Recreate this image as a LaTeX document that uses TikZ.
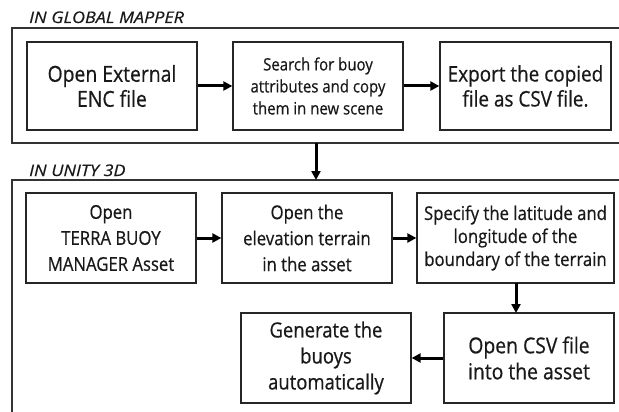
\documentclass[tikz,border=0pt]{standalone}
\usepackage{fontspec}
\setmainfont[FakeStretch=0.88, FakeBold=0.6]{Open Sans}
\newfontfamily\lblfont[FakeStretch=1.12, FakeBold=0.4]{Open Sans}
\usetikzlibrary{arrows.meta}
\tikzset{
  stepbox/.style={draw=black!85, line width=1.3pt, rectangle, align=center, inner sep=2pt, text=black!90},
  frame/.style={draw=black!80, line width=1.4pt},
  flow/.style={line width=3pt, draw=black, -{Triangle[length=9pt,width=9pt]}},
  lbl/.style={anchor=base west, font=\lblfont\fontsize{16}{18}\selectfont\itshape, text=black!90, inner sep=0pt}
}
\begin{document}
\begin{tikzpicture}[x=1pt,y=-1pt]
\useasboundingbox (0,0) rectangle (619,412);
\clip (0,0) rectangle (619,412);
% frames
\draw[frame] (12,28) rectangle (660,143);
\draw[frame] (12,180) rectangle (660,460);
\node[lbl] (l1) at (29,23) {IN GLOBAL MAPPER};
\node[lbl] (l2) at (29,176) {IN UNITY 3D};
% top row
\node[stepbox, minimum width=170pt, minimum height=88pt, font=\fontsize{22}{25}\selectfont] (a) at (112,86) {Open External\\ENC file};
\node[stepbox, minimum width=170pt, minimum height=88pt, font=\fontsize{17}{22}\selectfont] (b) at (318,86) {Search for buoy\\attributes and copy\\them in new scene};
\node[stepbox, minimum width=171pt, minimum height=88pt, font=\fontsize{21.5}{25}\selectfont] (c) at (525.5,86) {Export the copied\\file as CSV file.};
% bottom
\node[stepbox, minimum width=170pt, minimum height=90pt, font=\fontsize{19}{26}\selectfont] (d) at (111,238) {Open\\TERRA BUOY\\MANAGER Asset};
\node[stepbox, minimum width=170pt, minimum height=90pt, font=\fontsize{19}{26}\selectfont] (e) at (307,238) {Open the\\elevation terrain\\in the asset};
\node[stepbox, minimum width=197pt, minimum height=90pt, font=\fontsize{19}{23}\selectfont] (f) at (515.5,238) {Specify the latitude and\\longitude of the\\boundary of the terrain};
\node[stepbox, minimum width=170pt, minimum height=90pt, font=\fontsize{22}{26}\selectfont] (g) at (529,358) {Open CSV file\\into the asset};
\node[stepbox, minimum width=170pt, minimum height=90pt, font=\fontsize{21}{26}\selectfont] (h) at (326,358) {Generate the\\buoys\\automatically};
% connectors
\coordinate (f1s) at (316,143);
\coordinate (f2n) at (316,180);
\coordinate (fs) at (516,283);
\coordinate (gn) at (516,313);
\draw[flow] (a) -- (b);
\draw[flow] (b) -- (c);
\draw[flow] (f1s) -- (f2n);
\draw[flow] (d) -- (e);
\draw[flow] (e) -- (f);
\draw[flow] (fs) -- (gn);
\draw[flow] (g) -- (h);
\end{tikzpicture}
\end{document}
